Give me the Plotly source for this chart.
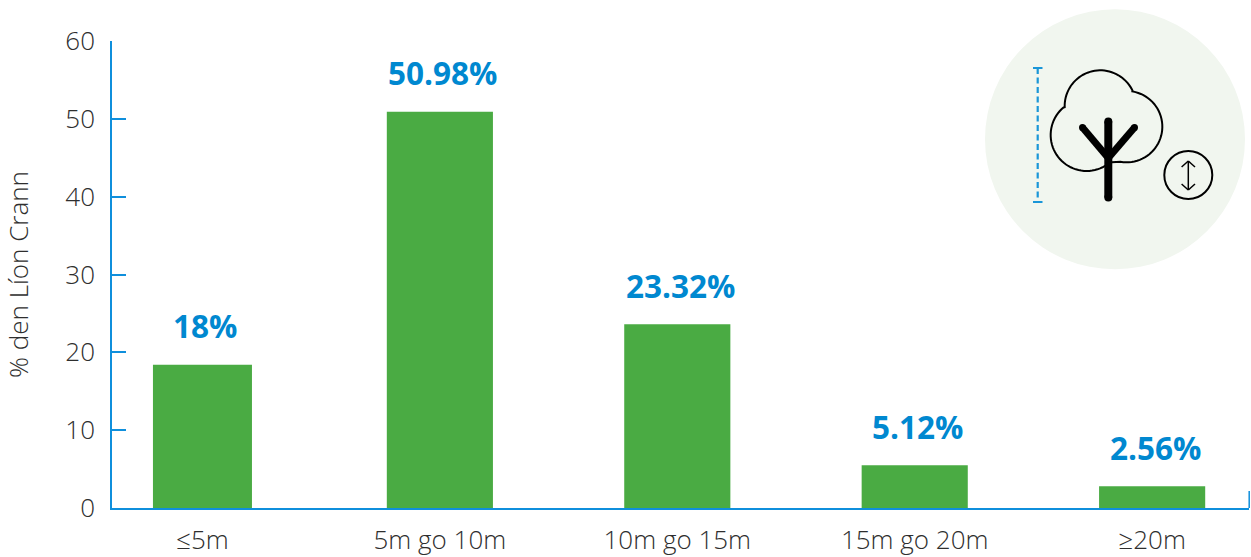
import math
import plotly.graph_objects as go

categories = ["≤5m", "5m go 10m", "10m go 15m", "15m go 20m", "≥20m"]
bar_heights = [18.4, 50.9, 23.6, 5.5, 2.8]
value_labels = ["18%", "50.98%", "23.32%", "5.12%", "2.56%"]
bar_widths = [0.417, 0.447, 0.447, 0.447, 0.447]
y_ticks = [0, 10, 20, 30, 40, 50, 60]

W, H = 1251, 557
L, R, T, B = 112, 2, 41, 49
BLUE = "#0f8fdc"
TEXT = "#2e2e2e"
FONT = "Open Sans"


def px(x):
    return (x - L) / (W - L - R)


def py(y):
    return 1 - (y - T) / (H - T - B)


def pt(x, y):
    return f"{px(x):.5f},{py(y):.5f}"


def zx(v):
    return 970 + v / 3


def zy(v):
    return v / 3


def line(x0, y0, x1, y1, color="#000000", width=2, dash=None):
    return dict(type="line", xref="paper", yref="paper", x0=px(x0), y0=py(y0), x1=px(x1), y1=py(y1),
                line=dict(color=color, width=width, dash=dash))


def circle(cx, cy, r, fill, border=None, width=0, layer="above"):
    return dict(type="circle", xref="paper", yref="paper", layer=layer,
                x0=px(cx - r), x1=px(cx + r), y0=py(cy + r), y1=py(cy - r),
                fillcolor=fill, line=dict(color=border or fill, width=width))


def arc(cx, cy, r, a0, a1, n=40):
    out = []
    for i in range(n + 1):
        a = math.radians(a0 + (a1 - a0) * i / n)
        out.append((zx(cx + r * math.cos(a)), zy(cy + r * math.sin(a))))
    return out


crown = (arc(350, 405, 108, 55, 230) + arc(391, 318, 107, 178, 336) + arc(470, 380, 107, 280, 460)
         + [(zx(425), zy(487))])
crown_path = "M" + " L".join(pt(x, y) for x, y in crown)

shapes = [
    circle(1115, 139.3, 130, "#f1f6ef", layer="below"),
    dict(type="path", xref="paper", yref="paper", path=crown_path, line=dict(color="#000000", width=2)),
    line(1037.7, 68, 1037.7, 202, "#1a96d8", 2.2, "6px,3.5px"),
    line(1033, 68, 1042.5, 68, "#1a96d8", 2),
    line(1033, 202, 1042.5, 202, "#1a96d8", 2),
    line(1108.3, 121.5, 1108.3, 197.5, "#000000", 8),
    circle(1108.3, 121.5, 4, "#000000"),
    circle(1108.3, 197.5, 4, "#000000"),
    line(1108.3, 158, 1082.5, 127.5, "#000000", 7),
    line(1108.3, 158, 1134.5, 127.5, "#000000", 7),
    circle(1082.5, 127.5, 3.5, "#000000"),
    circle(1134.5, 127.5, 3.5, "#000000"),
    dict(type="circle", xref="paper", yref="paper", x0=px(1164.3), x1=px(1212.3), y0=py(199), y1=py(151),
         line=dict(color="#000000", width=2)),
    line(1188.3, 161, 1188.3, 190, "#000000", 1.5),
    line(1181.6, 167, 1188.3, 161, "#000000", 1.5),
    line(1195, 167, 1188.3, 161, "#000000", 1.5),
    line(1181.6, 184, 1188.3, 190, "#000000", 1.5),
    line(1195, 184, 1188.3, 190, "#000000", 1.5),
    line(1249.2, 491, 1249.2, 508, BLUE, 1.5),
]

annotations = [
    dict(x=c, y=v, xref="x", yref="y", text=f"<b>{t}</b>", showarrow=False, yanchor="middle", xanchor="center",
         yshift=39, xshift=3, font=dict(family=FONT, size=31.5, color="#0088d0"))
    for c, v, t in zip(categories, bar_heights, value_labels)
]

fig = go.Figure(go.Bar(x=categories, y=bar_heights, width=bar_widths, marker=dict(color="#4aab43", line=dict(width=0)),
                       hoverinfo="skip"))
fig.update_layout(
    width=W, height=H, margin=dict(l=L, r=R, t=T, b=B, pad=0, autoexpand=False),
    paper_bgcolor="#ffffff", plot_bgcolor="#ffffff", showlegend=False,
    font=dict(family=FONT, color=TEXT), shapes=shapes, annotations=annotations,
    xaxis=dict(type="category", range=[-0.381, 4.408], showgrid=False, zeroline=False, showline=True, automargin=False,
               linecolor=BLUE, linewidth=1.5, ticks="",
               tickfont=dict(size=26, color=TEXT, weight=300), ticklabelstandoff=8),
    yaxis=dict(range=[0, 60], tickvals=y_ticks, showgrid=False, zeroline=False, showline=True, automargin=False,
               linecolor=BLUE, linewidth=1.5, ticks="inside", ticklen=14, tickcolor=BLUE, tickwidth=1.5,
               tickfont=dict(size=26, color=TEXT, weight=300), ticklabelstandoff=10,
               title=dict(text="% den Líon Crann", font=dict(size=26, color=TEXT, weight=300), standoff=33)),
)
fig.write_html("out.html", post_script="document.body.style.margin='0';", config={"displayModeBar": False})
